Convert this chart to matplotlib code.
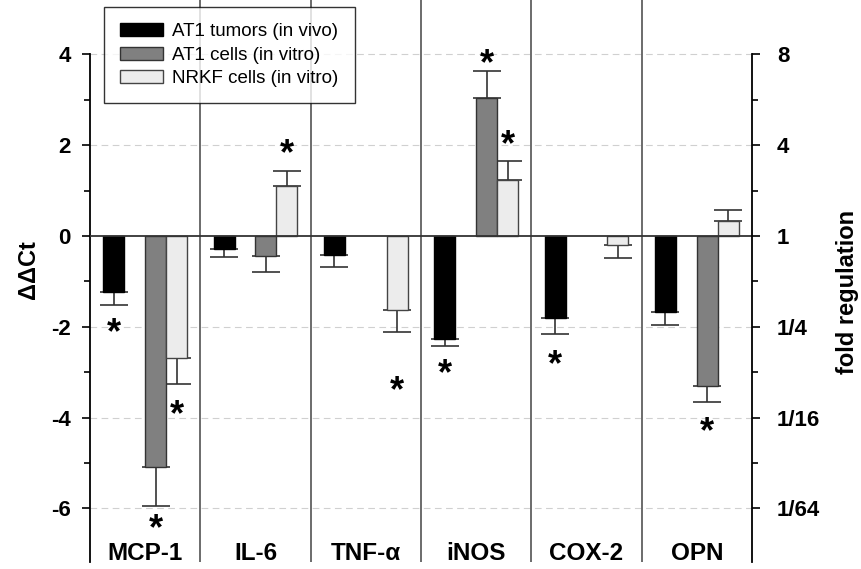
import numpy as np
import matplotlib
matplotlib.use("Agg")
import matplotlib.pyplot as plt

plt.rcParams['font.family'] = ['Liberation Sans', 'DejaVu Sans']
plt.rcParams['axes.unicode_minus'] = False

genes = ['MCP-1', 'IL-6', 'TNF-α', 'iNOS', 'COX-2', 'OPN']
series = ['AT1 tumors (in vivo)', 'AT1 cells (in vitro)', 'NRKF cells (in vitro)']

# ddCt means and standard errors (one-sided, drawn away from zero)
tumor_vivo = [-1.23, -0.29, -0.42, -2.27, -1.81, -1.67]
tumor_vivo_err = [0.29, 0.17, 0.26, 0.15, 0.35, 0.29]
at1_vitro = [-5.09, -0.44, np.nan, 3.05, np.nan, -3.30]
at1_vitro_err = [0.86, 0.35, np.nan, 0.58, np.nan, 0.36]
nrkf_vitro = [-2.69, 1.10, -1.63, 1.23, -0.20, 0.33]
nrkf_vitro_err = [0.57, 0.33, 0.48, 0.42, 0.28, 0.24]

# significance marks: (gene index, series index, y position)
stars = [(0, 0, -2.0), (0, 1, -6.32), (0, 2, -3.79),
         (1, 2, 1.96),
         (2, 2, -3.28),
         (3, 0, -2.9), (3, 1, 3.94), (3, 2, 2.14),
         (4, 0, -2.69),
         (5, 1, -4.18)]

left_ticks = [4, 2, 0, -2, -4, -6]
fold_labels = ['8', '4', '1', '1/4', '1/16', '1/64']

values = [tumor_vivo, at1_vitro, nrkf_vitro]
errors = [tumor_vivo_err, at1_vitro_err, nrkf_vitro_err]
faces = ['#000000', '#808080', '#ececec']
edges = ['#000000', '#333333', '#444444']
slots = [0, 2, 3]  # second slot in each group stays empty
width = 0.19

fig = plt.figure(figsize=(8.62, 5.69), dpi=100)
ax = fig.add_axes([0.1044, 0.0123, 0.768, 0.9877])
ymin, ymax = -7.18, 5.2
ax.set_xlim(0, 6)
ax.set_ylim(ymin, ymax)

x0 = np.arange(len(genes))
for k in range(3):
    xs = x0 + 0.12 + width * (slots[k] + 0.5)
    v = np.array(values[k], dtype=float)
    e = np.array(errors[k], dtype=float)
    lo = np.where(v < 0, e, 0)
    hi = np.where(v >= 0, e, 0)
    ax.errorbar(xs, v, yerr=[lo, hi], fmt='none', ecolor='#333333',
                elinewidth=1.2, capsize=10, capthick=1.2, zorder=2)
    ax.bar(xs, v, width, color=faces[k], edgecolor=edges[k], linewidth=1,
           label=series[k], zorder=3)

star_fs = 26
for g, s, y in stars:
    x = g + 0.12 + width * (slots[s] + 0.5)
    ax.annotate('*', (x, y), xytext=(0, -0.46 * star_fs), textcoords='offset points',
                ha='center', va='baseline', fontsize=star_fs, fontweight='bold', zorder=5)

# group separators, grid and zero line
for xs in range(1, 6):
    ax.axvline(xs, color='#606060', lw=1.3, zorder=1)
for t in left_ticks:
    if t != 0:
        ax.axhline(t, color='#d0d0d0', lw=0.8, ls=(0, (6, 4)), zorder=0)
ax.axhline(0, color='#333333', lw=1.3, zorder=4)

for i, name in enumerate(genes):
    ax.text(i + 0.5, -7.0, name, ha='center', va='center', fontsize=17.5,
            fontweight='bold')

ax.spines['top'].set_visible(False)
ax.spines['bottom'].set_visible(False)
ax.spines['right'].set_visible(False)
ax.spines['left'].set_bounds(ymin, 4)
ax.spines['left'].set_linewidth(1.3)
ax.set_xticks([])
ax.set_yticks(left_ticks)
ax.set_yticks([3, 1, -1, -3, -5], minor=True)
ax.tick_params(axis='y', which='major', length=6, width=1.2, labelsize=16, pad=8)
ax.tick_params(axis='y', which='minor', length=4, width=1.2)
for lab in ax.get_yticklabels():
    lab.set_fontweight('bold')
ax.set_ylabel('ΔΔCt', fontsize=17, fontweight='bold')
ax.yaxis.set_label_coords(-0.076, 0.52)

ax2 = ax.twinx()
ax2.set_ylim(ymin, ymax)
for side in ['top', 'bottom', 'left']:
    ax2.spines[side].set_visible(False)
ax2.spines['right'].set_bounds(ymin, 4)
ax2.spines['right'].set_linewidth(1.3)
ax2.set_yticks(left_ticks)
ax2.set_yticklabels(fold_labels)
ax2.set_yticks([3, 1, -1, -3, -5], minor=True)
ax2.tick_params(axis='y', which='major', length=6, width=1.2, labelsize=16, pad=12)
ax2.tick_params(axis='y', which='minor', length=4, width=1.2)
for lab in ax2.get_yticklabels():
    lab.set_fontweight('bold')
ax2.set_ylabel('fold regulation', fontsize=17, fontweight='bold')
ax2.yaxis.set_label_coords(1.127, 0.48)

leg = ax.legend(loc='upper left', bbox_to_anchor=(0.021, 0.9875), borderaxespad=0,
                fontsize=13.5, frameon=True, fancybox=False, edgecolor='black',
                handlelength=2.3, handleheight=0.7, borderpad=0.85,
                labelspacing=0.35, handletextpad=0.5)
leg.get_frame().set_linewidth(1.0)
leg.set_zorder(10)

fig.savefig('out.png', dpi=100)
